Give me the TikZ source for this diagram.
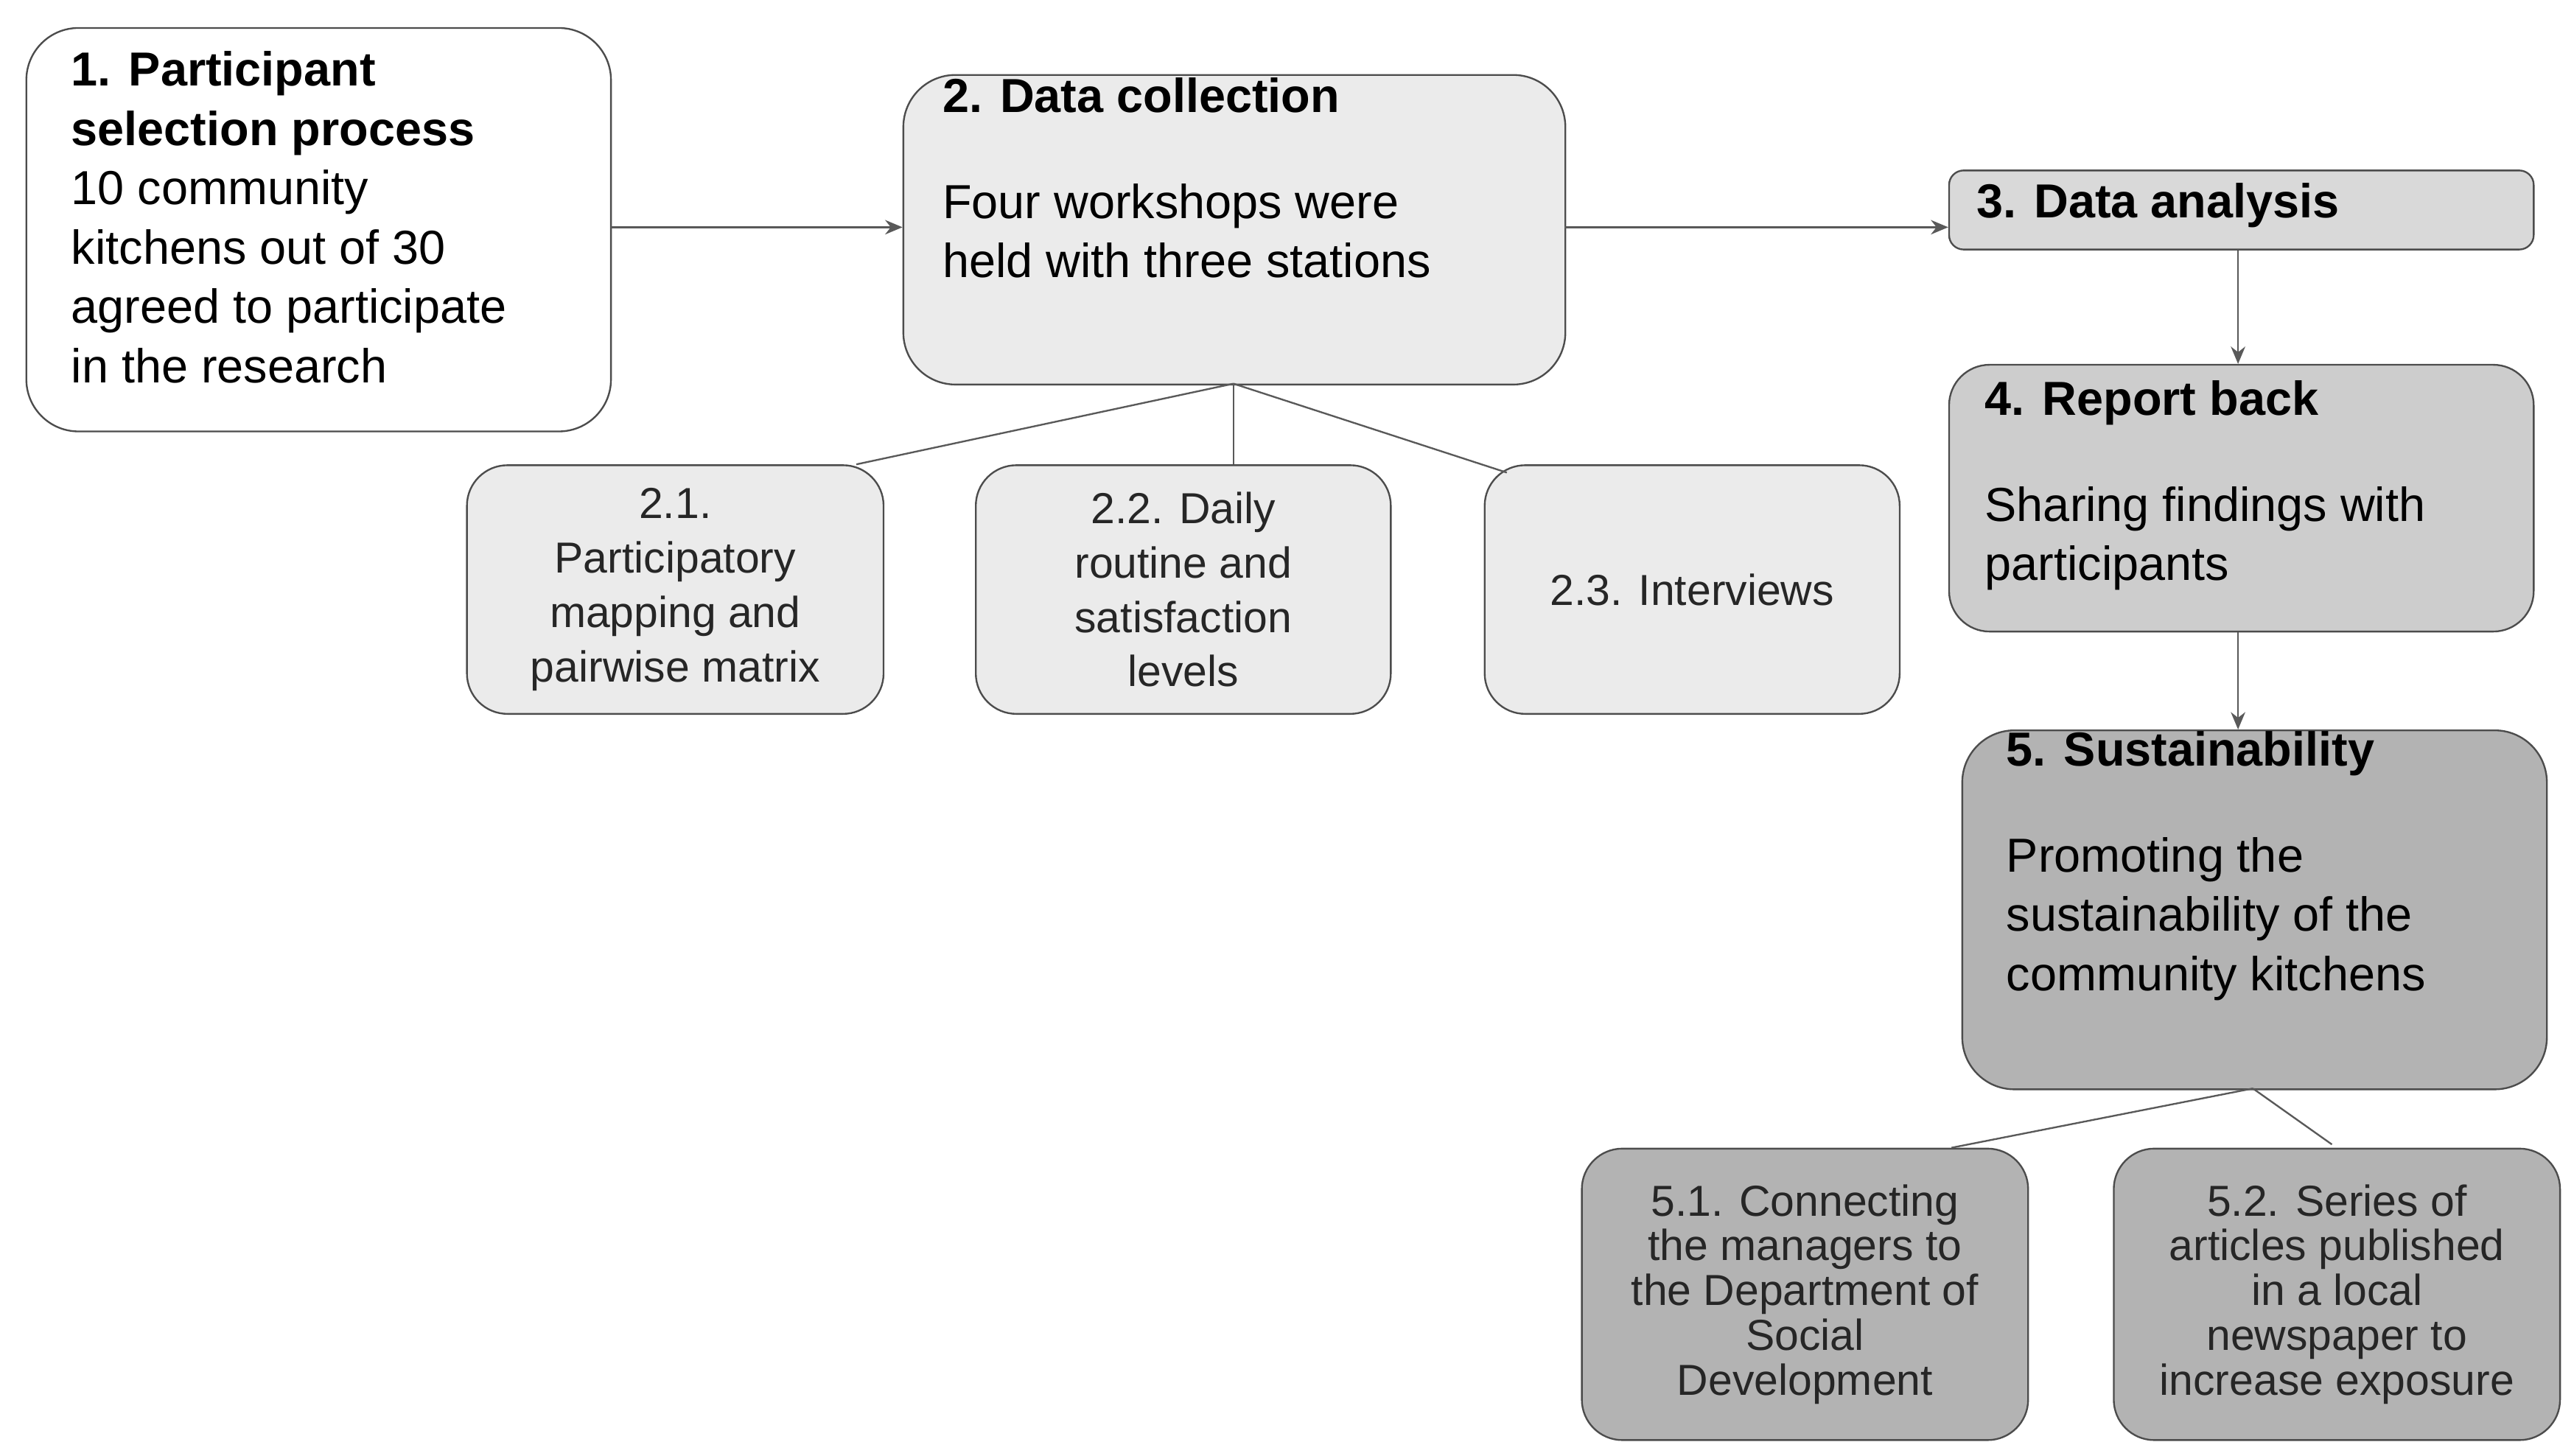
\documentclass[tikz,border=0pt]{standalone}
\usepackage{fontspec}
\setmainfont{Liberation Sans}
\usetikzlibrary{arrows.meta}
\definecolor{gA}{HTML}{EBEBEB}
\definecolor{gB}{HTML}{D9D9D9}
\definecolor{gC}{HTML}{CDCDCD}
\definecolor{gD}{HTML}{B3B3B3}
\begin{document}
\begin{tikzpicture}[x=0.02cm,y=-0.02cm,
  box/.style={draw=black!70,line width=0.6pt,rounded corners=9pt},
  big/.style={anchor=north west,align=left,inner sep=0pt,font=\fontsize{16.5}{20.5}\selectfont},
  small/.style={align=center,inner sep=0pt,text=black!85,font=\fontsize{15}{18.8}\selectfont},
  line/.style={draw=black!65,line width=0.6pt},
  arr/.style={line,-{Stealth[length=6pt,width=5pt]}}]
\useasboundingbox (0,0) rectangle (1563,884);
% main boxes
\draw[box,fill=white,rounded corners=18pt] (16,17) rectangle (371,262);
\node[box,fill=gA,rounded corners=18pt,minimum width=402*0.02cm,minimum height=188*0.02cm,anchor=north west] (b2) at (548,45) {};
\node[box,fill=gB,rounded corners=5pt,minimum width=355*0.02cm,minimum height=48*0.02cm,anchor=north west] (b3) at (1183,103) {};
\node[box,fill=gC,rounded corners=14pt,minimum width=355*0.02cm,minimum height=162*0.02cm,anchor=north west] (b4) at (1183,221) {};
\node[box,fill=gD,rounded corners=18pt,minimum width=355*0.02cm,minimum height=218*0.02cm,anchor=north west] (b5) at (1191,443) {};
\coordinate (b1e) at (371,138);
% sub boxes
\node[box,fill=gA,rounded corners=14pt,minimum width=253*0.02cm,minimum height=151*0.02cm,anchor=north west] (s1) at (283,282) {};
\node[box,fill=gA,rounded corners=14pt,minimum width=252*0.02cm,minimum height=151*0.02cm,anchor=north west] (s2) at (592,282) {};
\node[box,fill=gA,rounded corners=14pt,minimum width=252*0.02cm,minimum height=151*0.02cm,anchor=north west] (s3) at (901,282) {};
\node[box,fill=gD,rounded corners=14pt,minimum width=271*0.02cm,minimum height=177*0.02cm,anchor=north west] (t1) at (960,697) {};
\node[box,fill=gD,rounded corners=14pt,minimum width=271*0.02cm,minimum height=177*0.02cm,anchor=north west] (t2) at (1283,697) {};
% texts
\node[big] (x1) at (43,31) {\textbf{1. Participant}\\\textbf{selection process}\\10 community\\kitchens out of 30\\agreed to participate\\in the research};
\node[big] (x2) at (572,47) {\textbf{2. Data collection}\\[16pt]Four workshops were\\held with three stations};
\node[big] (x3) at (1200,111) {\textbf{3. Data analysis}};
\node[big] (x4) at (1205,231) {\textbf{4. Report back}\\[16pt]Sharing findings with\\participants};
\node[big] (x5) at (1218,444) {\textbf{5. Sustainability}\\[16pt]Promoting the\\sustainability of the\\community kitchens};
\node[small] (y1) at (s1) {2.1.\\Participatory\\mapping and\\pairwise matrix};
\node[small] (y2) at (s2) {2.2. Daily\\routine and\\satisfaction\\levels};
\node[small] (y3) at (s3) {2.3. Interviews};
\node[small,font=\fontsize{15}{15.5}\selectfont] (z1) at (t1) {5.1. Connecting\\the managers to\\the Department of\\Social\\Development};
\node[small,font=\fontsize{15}{15.5}\selectfont] (z2) at (t2) {5.2. Series of\\articles published\\in a local\\newspaper to\\increase exposure};
% connectors
\coordinate (b2w) at (548,138);
\coordinate (b2e) at (950,138);
\coordinate (b3w) at (1183,138);
\draw[arr] (b1e) -- (b2w);
\draw[arr] (b2e) -- (b3w);
\draw[arr] (b3.south -| 1359,0) -- (b4.north -| 1359,0);
\draw[arr] (b4.south -| 1359,0) -- (b5.north -| 1359,0);
\coordinate (c2) at (749,233);
\coordinate (s1t) at (520,282);
\coordinate (s3t) at (915,287);
\draw[line] (c2) -- (s1t);
\draw[line] (c2) -- (s2.north -| c2);
\draw[line] (c2) -- (s3t);
\coordinate (c5) at (1368,661);
\coordinate (t1t) at (1185,697);
\coordinate (t2t) at (1416,695);
\draw[line] (c5) -- (t1t);
\draw[line] (c5) -- (t2t);
\end{tikzpicture}
\end{document}
